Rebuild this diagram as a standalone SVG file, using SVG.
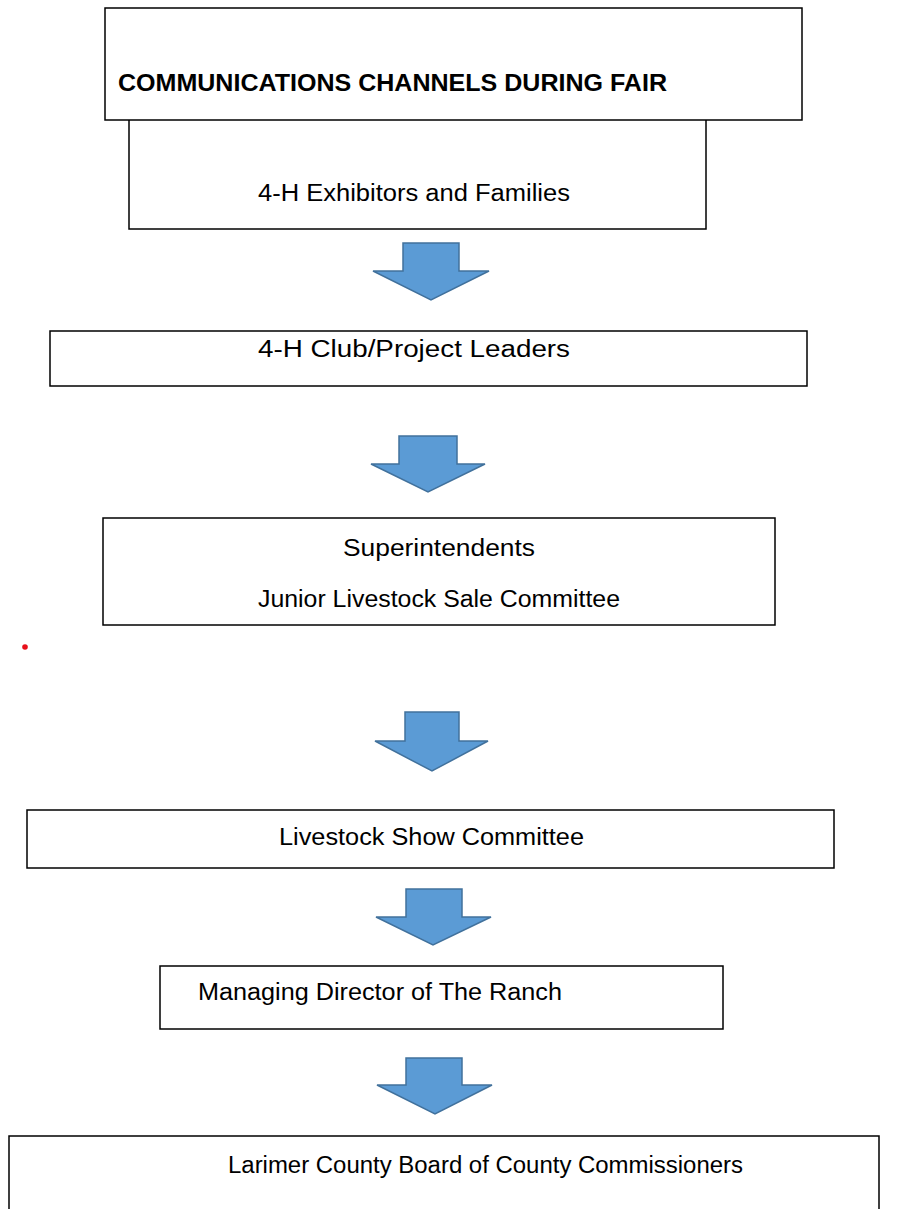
<svg xmlns="http://www.w3.org/2000/svg" width="906" height="1209" viewBox="0 0 906 1209">
<defs>
<style>
.box{fill:#fff;stroke:#000;stroke-width:1.5}
.arr{fill:#5B9BD5;stroke:#41719C;stroke-width:1.5;stroke-linejoin:miter}
.t{font-family:"Liberation Sans",Arial,sans-serif;font-size:23px;fill:#000}
.tb{font-family:"Liberation Sans",Arial,sans-serif;font-size:23px;font-weight:bold;fill:#000}
</style>
</defs>
<rect width="906" height="1209" fill="#fff"/>
<g id="node-exhibitors">
<rect class="box" x="129" y="110" width="577" height="119"/>
<text class="t" x="258" y="201" textLength="312" lengthAdjust="spacingAndGlyphs">4-H Exhibitors and Families</text>
</g>
<g id="node-title">
<rect class="box" x="105" y="8" width="697" height="112"/>
<text class="tb" x="118" y="91" textLength="549" lengthAdjust="spacingAndGlyphs">COMMUNICATIONS CHANNELS DURING FAIR</text>
</g>
<g id="node-leaders">
<rect class="box" x="50" y="331" width="757" height="55"/>
<text class="t" x="258" y="357" textLength="312" lengthAdjust="spacingAndGlyphs">4-H Club/Project Leaders</text>
</g>
<g id="node-superintendents">
<rect class="box" x="103" y="518" width="672" height="107"/>
<text class="t" x="343" y="556" textLength="192" lengthAdjust="spacingAndGlyphs">Superintendents</text>
<text class="t" x="258" y="607" textLength="362" lengthAdjust="spacingAndGlyphs">Junior Livestock Sale Committee</text>
</g>
<circle cx="25" cy="647" r="2.8" fill="#E8101A"/>
<g id="node-livestock-show">
<rect class="box" x="27" y="810" width="807" height="58"/>
<text class="t" x="279" y="845" textLength="305" lengthAdjust="spacingAndGlyphs">Livestock Show Committee</text>
</g>
<g id="node-managing-director">
<rect class="box" x="160" y="966" width="563" height="63"/>
<text class="t" x="198" y="1000" textLength="364" lengthAdjust="spacingAndGlyphs">Managing Director of The Ranch</text>
</g>
<g id="node-commissioners">
<path class="box" d="M9,1240 V1136 H879 V1240" fill="none"/>
<text class="t" x="228" y="1173" textLength="515" lengthAdjust="spacingAndGlyphs">Larimer County Board of County Commissioners</text>
</g>
<g id="connectors">
<path class="arr" d="M403,243 H459 V271 H489 L431,300 L373,271 H403 Z"/>
<path class="arr" d="M399,436 H457 V464 H485 L428,492 L371,464 H399 Z"/>
<path class="arr" d="M405,712 H459 V741 H488 L432,771 L375,741 H405 Z"/>
<path class="arr" d="M406,889 H462 V917 H491 L433,945 L376,917 H406 Z"/>
<path class="arr" d="M406,1058 H462 V1085 H492 L435,1114 L377,1085 H406 Z"/>
</g>
</svg>
